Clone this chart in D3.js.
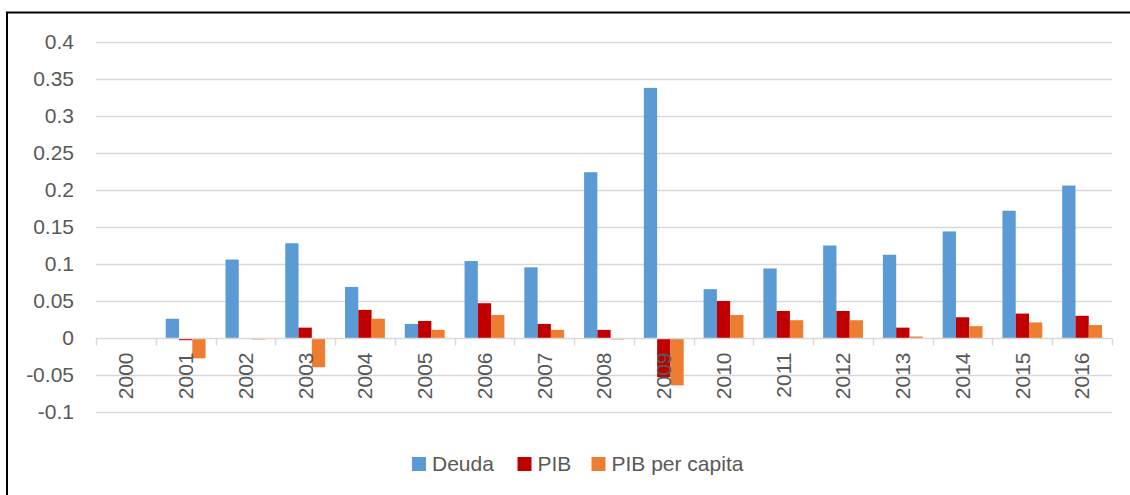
<!DOCTYPE html>
<html>
<head>
<meta charset="utf-8">
<script src="https://cdn.jsdelivr.net/npm/d3@7"></script>
<style>
  body { margin: 0; background: #fff; }
  text { font-family: "Liberation Sans", Arial, sans-serif; fill: #595959; }
</style>
</head>
<body>
<div id="vis"></div>
<script>
var years = ["2000","2001","2002","2003","2004","2005","2006","2007","2008",
             "2009","2010","2011","2012","2013","2014","2015","2016"];
var deuda = [0, 0.026, 0.106, 0.128, 0.069, 0.019, 0.104, 0.0955, 0.224,
             0.338, 0.066, 0.094, 0.125, 0.1125, 0.144, 0.172, 0.206];
var pib = [0, -0.003, 0, 0.014, 0.038, 0.023, 0.047, 0.019, 0.011,
           -0.053, 0.050, 0.0365, 0.0365, 0.014, 0.028, 0.033, 0.030];
var pibPc = [0, -0.0275, -0.002, -0.0395, 0.026, 0.011, 0.031, 0.011, -0.002,
             -0.064, 0.031, 0.024, 0.024, 0.002, 0.016, 0.021, 0.0175];
var seriesNames = ["Deuda", "PIB", "PIB per capita"];
var seriesColors = ["#5B9BD5", "#C00000", "#ED7D31"];
var yTicks = [-0.1, -0.05, 0, 0.05, 0.1, 0.15, 0.2, 0.25, 0.3, 0.35, 0.4];

var width = 1130,
    height = 495;

var svg = d3.select("#vis").append("svg")
    .attr("width", width)
    .attr("height", height);

// frame (only top and left edges show in the picture)
svg.append("rect")
    .attr("x", 7)
    .attr("y", 12.5)
    .attr("width", 1200)
    .attr("height", 600)
    .attr("fill", "none")
    .attr("stroke", "#000")
    .attr("stroke-width", 2);

var x = d3.scaleBand().domain(years).range([96, 1112]);
var y = d3.scaleLinear().domain([-0.1, 0.4]).range([412, 42]);

// inner band: gap width 150% => bars take 3/4.5 of band
var xs = d3.scaleBand().domain(d3.range(3))
    .range([0, x.bandwidth()])
    .paddingOuter(0.75)
    .paddingInner(0);

// gridlines
svg.append("g")
    .selectAll("line")
    .data(yTicks.filter(function(d) { return d !== 0; }))
    .enter().append("line")
      .attr("x1", 96)
      .attr("x2", 1112)
      .attr("y1", function(d) { return Math.round(y(d)) + 0.5; })
      .attr("y2", function(d) { return Math.round(y(d)) + 0.5; })
      .attr("stroke", "#D9D9D9")
      .attr("stroke-width", 1.5);

// y labels (plain hyphen for negatives, like the original)
svg.append("g")
    .selectAll("text")
    .data(yTicks)
    .enter().append("text")
      .attr("x", 74)
      .attr("y", function(d) { return y(d); })
      .attr("dy", "0.35em")
      .attr("text-anchor", "end")
      .style("font-size", "21px")
      .text(function(d) { return String(d); });

// bars
var rows = years.map(function(yr, i) {
  return { year: yr, vals: [deuda[i], pib[i], pibPc[i]] };
});

var groups = svg.append("g")
    .selectAll("g")
    .data(rows)
    .enter().append("g")
      .attr("transform", function(d) { return "translate(" + x(d.year) + ",0)"; });

groups.selectAll("rect")
    .data(function(d) { return d.vals.map(function(v, k) { return { k: k, v: v }; }); })
    .enter().append("rect")
      .attr("x", function(d) { return xs(d.k); })
      .attr("width", xs.bandwidth())
      .attr("y", function(d) { return Math.min(y(d.v), y(0)); })
      .attr("height", function(d) { return Math.abs(y(d.v) - y(0)); })
      .attr("fill", function(d) { return seriesColors[d.k]; });

// category axis at zero
var xAxis = svg.append("g")
    .attr("transform", "translate(0," + (Math.round(y(0)) + 0.5) + ")");

xAxis.append("line")
    .attr("x1", 96)
    .attr("x2", 1112)
    .attr("stroke", "#D9D9D9")
    .attr("stroke-width", 1.5);

xAxis.selectAll("line.tick")
    .data(years.concat(["end"]))
    .enter().append("line")
      .attr("class", "tick")
      .attr("x1", function(d, i) { return Math.round(96 + i * x.bandwidth()) + 0.5; })
      .attr("x2", function(d, i) { return Math.round(96 + i * x.bandwidth()) + 0.5; })
      .attr("y1", 0)
      .attr("y2", 7)
      .attr("stroke", "#D9D9D9")
      .attr("stroke-width", 1.5);

xAxis.selectAll("text")
    .data(years)
    .enter().append("text")
      .attr("transform", function(d) {
        return "translate(" + (x(d) + x.bandwidth() / 2) + ",14) rotate(-90)";
      })
      .attr("text-anchor", "end")
      .attr("dy", "0.35em")
      .style("font-size", "21px")
      .text(function(d) { return d; });

// legend
var legendX = [412, 517.5, 591.5];
var legend = svg.append("g")
    .selectAll("g")
    .data(seriesNames)
    .enter().append("g")
      .attr("transform", function(d, i) { return "translate(" + legendX[i] + ",457)"; });

legend.append("rect")
    .attr("width", 14)
    .attr("height", 14)
    .attr("fill", function(d, i) { return seriesColors[i]; });

legend.append("text")
    .attr("x", 20)
    .attr("y", 7)
    .attr("dy", "0.35em")
    .style("font-size", "21px")
    .text(function(d) { return d; });
</script>
</body>
</html>
